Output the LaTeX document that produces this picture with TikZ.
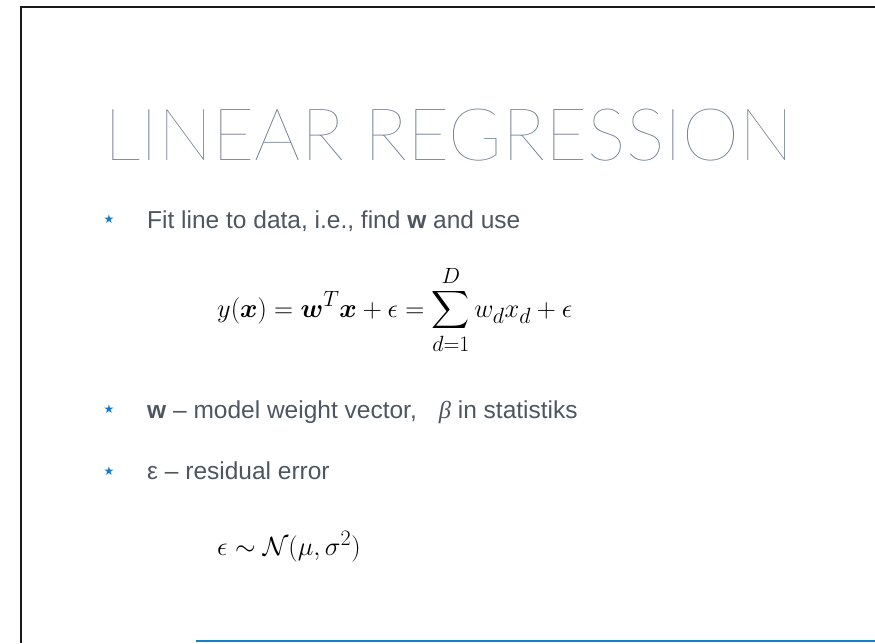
\documentclass[tikz,border=0pt]{standalone}
\usepackage{amsmath}
\usepackage{fontspec}
\setmainfont{Liberation Sans}
\newfontfamily\symfont{DejaVu Sans}
\newfontfamily\betafont{Liberation Serif}
\IfFontExistsTF{Lato Hairline}{\newfontfamily\titlefont{Lato Hairline}}{%
  \IfFontExistsTF{Lato Thin}{\newfontfamily\titlefont{Lato Thin}}{%
    \IfFontExistsTF{Lato Light}{\newfontfamily\titlefont{Lato Light}}{%
      \newfontfamily\titlefont{Liberation Sans}}}}
\definecolor{titlegray}{RGB}{100,115,135}
\definecolor{bodygray}{RGB}{78,86,96}
\definecolor{starblue}{RGB}{22,122,200}
\definecolor{lineblue}{RGB}{20,128,200}
\tikzset{
  titletext/.style={anchor=base west, inner sep=0pt, text=titlegray, font=\titlefont\fontsize{72.6}{80}\selectfont},
  bodytext/.style={anchor=base west, inner sep=0pt, text=bodygray, font=\fontsize{24.5}{28}\selectfont},
  startext/.style={anchor=center, inner sep=0pt, text=starblue, font=\symfont\fontsize{12}{14}\selectfont},
  mathtext/.style={anchor=base west, inner sep=0pt, text=black, scale=1.062, font=\fontsize{24.88}{30}\selectfont},
}
\begin{document}
\begin{tikzpicture}[x=1pt,y=-1pt]
\useasboundingbox (0,0) rectangle (875,643);
\fill[white] (0,0) rectangle (875,643);
\draw[line width=2pt, black!90] (20.5,643) -- (20.5,7) -- (875,7);
\node[titletext] (title) at (104,160) {LINEAR REGRESSION};
\node[startext] (s1) at (109,219) {★};
\node[bodytext] (b1) at (147,228) {Fit line to data, i.e., find \textbf{w} and use};
\node[mathtext] (eq1) at (217,317) {$\displaystyle y(\boldsymbol{x}) = \boldsymbol{w}^T\boldsymbol{x} + \epsilon = \sum_{d=1}^{D} w_d x_d + \epsilon$};
\node[startext] (s2) at (109,409) {★};
\node[bodytext] (b2) at (147,418) {\textbf{w} – model weight vector,\hspace{22pt}{\betafont\itshape β} in statistiks};
\node[startext] (s3) at (109,471) {★};
\node[bodytext] (b3) at (147,479) {ε – residual error};
\node[mathtext] (eq2) at (217,555) {$\epsilon \sim \mathcal{N}(\mu, \sigma^2)$};
\draw[line width=2pt, lineblue] (196,641) -- (875,641);
\end{tikzpicture}
\end{document}
